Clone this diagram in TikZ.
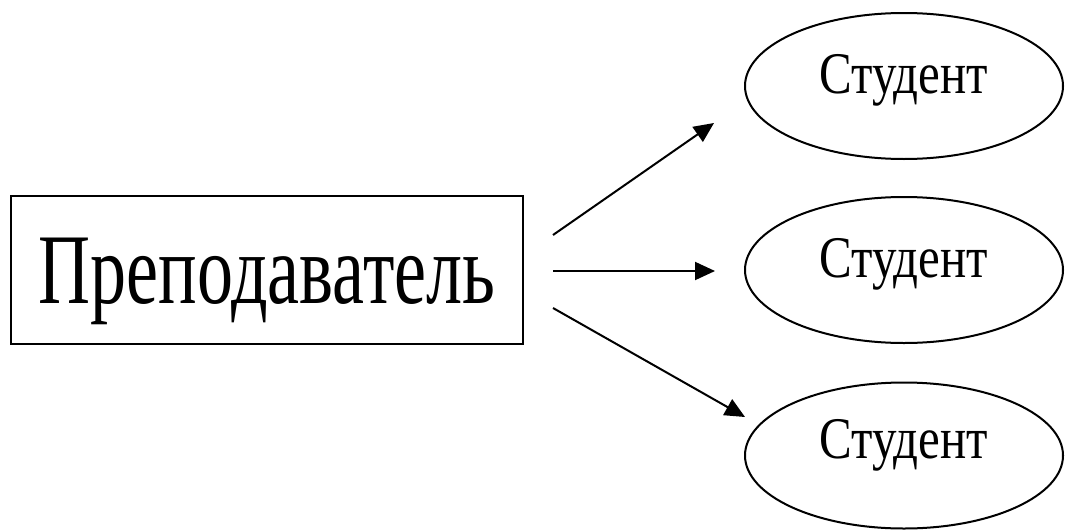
\documentclass[tikz,border=0pt]{standalone}
\usepackage{fontspec}
\setmainfont{Liberation Serif}
\usetikzlibrary{arrows.meta,shapes.geometric}
\begin{document}
\begin{tikzpicture}[x=1pt,y=-1pt,
  teacher/.style={draw, line width=2.5pt, minimum width=512pt, minimum height=148pt, inner sep=0pt, text height=66pt, text depth=0pt},
  student/.style={draw, ellipse, line width=2pt, minimum width=318pt, minimum height=146pt, inner sep=0pt, text height=14pt, text depth=0pt},
  link/.style={line width=2pt, -{Triangle[length=20pt,width=18pt]}}]
\useasboundingbox (0,0) rectangle (1065,530);
\node[teacher] (t) at (267,270) {\scalebox{0.72}[1]{\fontsize{100}{100}\selectfont Преподаватель}};
\node[student] (s1) at (904,86) {\scalebox{0.83}[1]{\fontsize{59}{59}\selectfont Студент}};
\node[student] (s2) at (904,270) {\scalebox{0.83}[1]{\fontsize{59}{59}\selectfont Студент}};
\node[student, text height=6pt] (s3) at (904,455.5) {\scalebox{0.83}[1]{\fontsize{59}{59}\selectfont Студент}};
\coordinate (a1) at (553,235);
\coordinate (b1) at (714,123);
\coordinate (a2) at (553,271);
\coordinate (b2) at (715,271);
\coordinate (a3) at (553,308);
\coordinate (b3) at (745,417);
\draw[link] (a1) -- (b1);
\draw[link] (a2) -- (b2);
\draw[link] (a3) -- (b3);
\end{tikzpicture}
\end{document}
